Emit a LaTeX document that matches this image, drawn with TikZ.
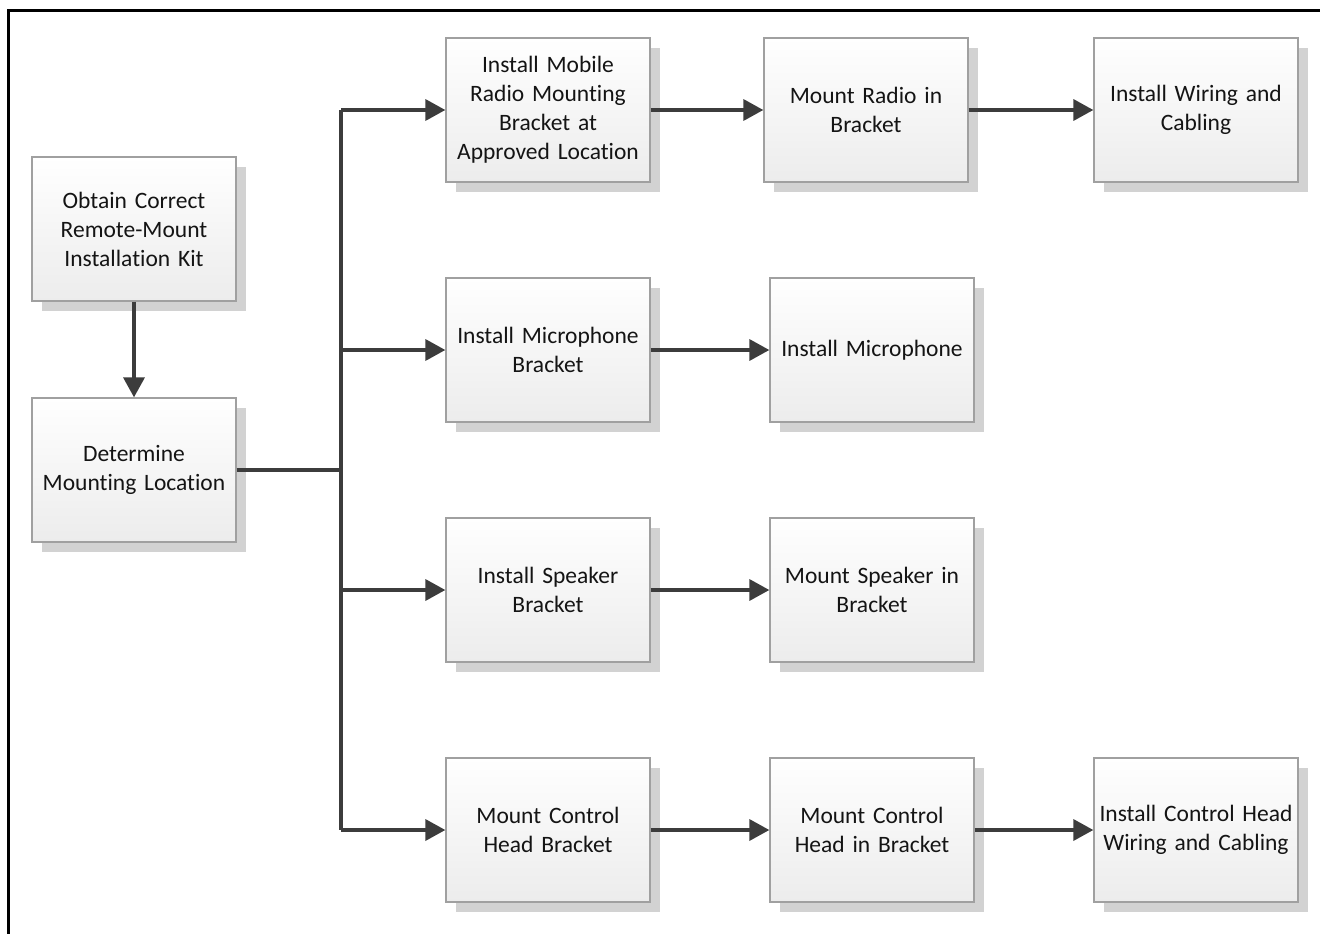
\documentclass[tikz,border=0pt]{standalone}
\usepackage{fontspec}
\setmainfont{Carlito}[Ligatures={NoCommon}]
\usetikzlibrary{arrows.meta,shadows}
\definecolor{linec}{HTML}{3C3C3C}
\definecolor{boxborder}{HTML}{A0A0A0}
\definecolor{shadowc}{HTML}{D2D2D2}
\definecolor{boxbot}{HTML}{ECECEC}
\tikzset{
  stepbox/.style={rectangle, draw=boxborder, line width=1.3pt,
    top color=white, bottom color=boxbot,
    minimum width=204pt, minimum height=144pt, inner sep=0pt,
    text width=202pt, align=center,
    font=\fontsize{23.5}{29}\selectfont, text=black!92,
    drop shadow={shadow xshift=10pt, shadow yshift=-10pt, fill=shadowc, opacity=1}},
  conn/.style={draw=linec, line width=3.5pt},
  arr/.style={conn, -{Triangle[length=20pt,width=21pt]}, color=linec}
}
\begin{document}
\begin{tikzpicture}[x=1pt,y=-1pt]
\useasboundingbox (0,0) rectangle (1320,934);
\begin{scope}
\clip (0,0) rectangle (1320,934);
\draw[line width=3pt, black] (8,11) rectangle (1340,954);
\end{scope}

\node[stepbox] (obtain) at (134,229) {Obtain Correct\\Remote-Mount\\Installation Kit};
\node[stepbox] (determine) at (134,470) {Determine\\Mounting Location};

\node[stepbox] (bracket) at (548,110) {Install Mobile\\Radio Mounting\\Bracket at\\Approved Location};
\node[stepbox] (micbr) at (548,350) {Install Microphone\\Bracket};
\node[stepbox] (spkbr) at (548,590) {Install Speaker\\Bracket};
\node[stepbox] (chbr) at (548,830) {Mount Control\\Head Bracket};

\node[stepbox] (radio) at (866,110) {Mount Radio in\\Bracket};
\node[stepbox] (mic) at (872,350) {Install Microphone};
\node[stepbox] (spk) at (872,590) {Mount Speaker in\\Bracket};
\node[stepbox] (chmount) at (872,830) {Mount Control\\Head in Bracket};

\node[stepbox] (wiring) at (1196,110) {Install Wiring and\\Cabling};
\node[stepbox] (chwiring) at (1196,830) {Install Control Head\\Wiring and Cabling};

\coordinate (t1) at (341,110);
\coordinate (t2) at (341,350);
\coordinate (t3) at (341,590);
\coordinate (t4) at (341,830);
\coordinate (tj) at (341,470);

\draw[arr] (obtain) -- (determine);
\draw[conn] (determine.east) -- (tj);
\draw[conn] (t1) -- (t4);
\draw[arr] (t1) -- (bracket.west);
\draw[arr] (t2) -- (micbr.west);
\draw[arr] (t3) -- (spkbr.west);
\draw[arr] (t4) -- (chbr.west);

\draw[arr] (bracket) -- (radio);
\draw[arr] (radio) -- (wiring);
\draw[arr] (micbr) -- (mic);
\draw[arr] (spkbr) -- (spk);
\draw[arr] (chbr) -- (chmount);
\draw[arr] (chmount) -- (chwiring);
\end{tikzpicture}
\end{document}
